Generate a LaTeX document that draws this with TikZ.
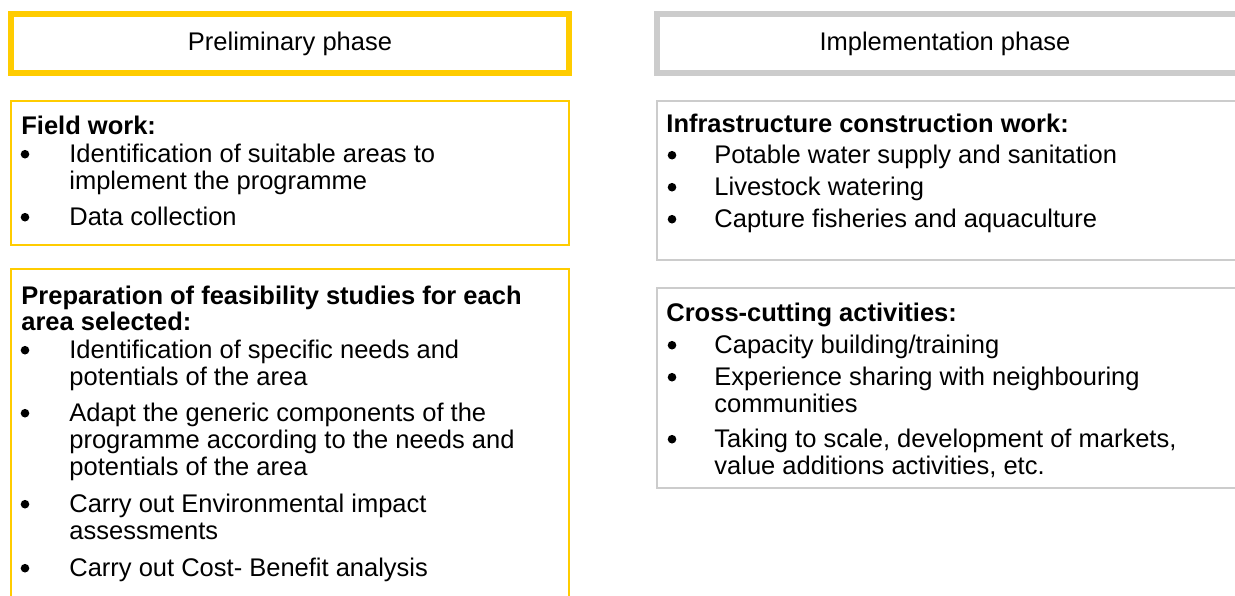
\documentclass[tikz,border=0pt]{standalone}
\usepackage{fontspec}
\setmainfont{Liberation Sans}
\usepackage{xcolor}

\definecolor{prelimyellow}{HTML}{FFCC00}
\definecolor{implgrey}{HTML}{CCCCCC}

\tikzset{
  phasebox/.style={line width=3pt},
  listbox/.style={line width=1pt},
  txt/.style={anchor=base west, inner sep=0pt, font=\fontsize{12.75}{13.5}\selectfont},
  hd/.style={txt, font=\fontsize{12.75}{13.5}\selectfont\bfseries},
  dot/.style={circle, fill=black, inner sep=0pt, minimum size=4.3pt, yshift=3.9pt},
}

\begin{document}
\begin{tikzpicture}[x=0.5pt, y=-0.5pt]
  \useasboundingbox (0,0) rectangle (1235,595);
  \clip (0,0) rectangle (1235,595);

  % phase headers
  \draw[phasebox, prelimyellow] (11,14) rectangle (569,73);
  \draw[phasebox, implgrey] (657,14) rectangle (1245,73);
  \node[txt, anchor=base] (prelim) at (290,50) {Preliminary phase};
  \node[txt, anchor=base] (impl) at (945,50) {Implementation phase};

  % preliminary phase: field work
  \draw[listbox, prelimyellow] (11,101) rectangle (569,245);
  \node[hd] (field) at (21,134) {Field work:};
  \foreach \y/\t [count=\i] in {162/Identification of suitable areas to,
      189/implement the programme, 225/Data collection}
    \node[txt] (field\i) at (69,\y) {\t};
  \foreach \y [count=\i] in {162,225}
    \node[dot] (fieldb\i) at (25,\y) {};

  % preliminary phase: feasibility studies
  \draw[listbox, prelimyellow] (11,269) rectangle (569,640);
  \node[hd] (feas) at (21,304) {Preparation of feasibility studies for each};
  \node[hd] (feas0) at (21,330) {area selected:};
  \foreach \y/\t [count=\i] in {358/Identification of specific needs and,
      385/potentials of the area,
      421/Adapt the generic components of the,
      448/programme according to the needs and,
      475/potentials of the area,
      512/Carry out Environmental impact,
      539/assessments,
      576/Carry out Cost- Benefit analysis}
    \node[txt] (feas\i) at (69,\y) {\t};
  \foreach \y [count=\i] in {358,421,512,576}
    \node[dot] (feasb\i) at (25,\y) {};

  % implementation phase: construction work
  \draw[listbox, line width=1.25pt, implgrey] (657,101) rectangle (1245,260);
  \node[hd] (infra) at (666,132) {Infrastructure construction work:};
  \foreach \y/\t [count=\i] in {163/Potable water supply and sanitation,
      195/Livestock watering, 227/Capture fisheries and aquaculture}
    \node[txt] (infra\i) at (714,\y) {\t};
  \foreach \y [count=\i] in {163,195,227}
    \node[dot] (infrab\i) at (672,\y) {};

  % implementation phase: cross-cutting
  \draw[listbox, line width=1.25pt, implgrey] (657,288) rectangle (1245,488);
  \node[hd] (cross) at (666,321) {Cross-cutting activities:};
  \foreach \y/\t [count=\i] in {353/{Capacity building/training},
      385/Experience sharing with neighbouring,
      412/communities,
      447/{Taking to scale, development of markets,},
      474/{value additions activities, etc.}}
    \node[txt] (cross\i) at (714,\y) {\t};
  \foreach \y [count=\i] in {353,385,447}
    \node[dot] (crossb\i) at (672,\y) {};
\end{tikzpicture}
\end{document}
